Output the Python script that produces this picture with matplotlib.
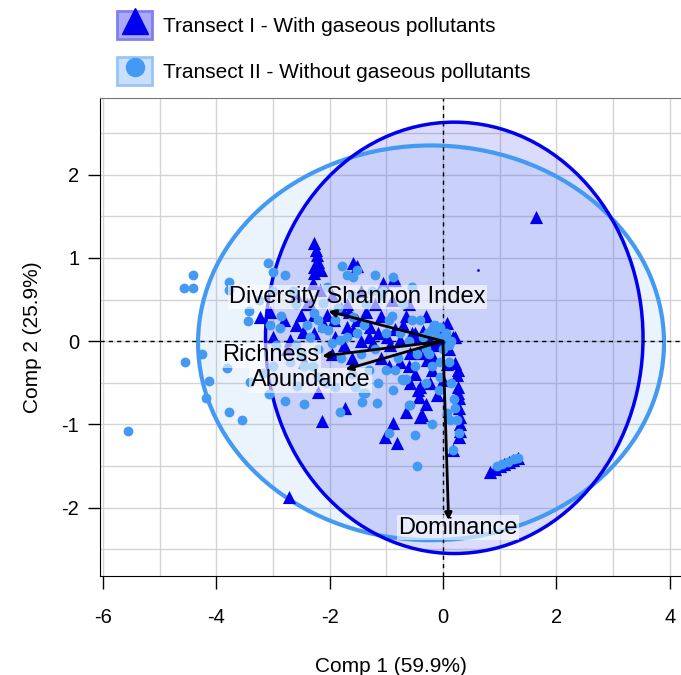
import matplotlib
matplotlib.use("Agg")
import matplotlib.pyplot as plt
from matplotlib.patches import Ellipse, Patch
from matplotlib.lines import Line2D
from matplotlib.legend_handler import HandlerTuple

plt.rcParams['font.family'] = ['Liberation Sans', 'DejaVu Sans']
plt.rcParams['axes.unicode_minus'] = False

# Transect I - With gaseous pollutants (triangles)
t1_x = [-2.28, -2.24, -2.22, -2.20, -2.28, -2.27, -2.15, -2.30, -2.16,
        -1.58, -1.52, -1.05, -0.88, -0.84,
        -3.22, -2.99, -2.69, -2.46, -2.28, -2.51, -2.28, -2.04, -1.93, -1.69,
        -1.58, -1.28, -1.51, -1.23, -0.98, -0.93, -0.76, -0.58, -0.40, -0.28,
        -0.18, 0.18, -0.11, 0.00, 0.07, 0.21, -0.14,
        -0.58, -0.40, -0.23, 0.00, 0.07, -0.44, -0.42,
        0.21, 0.25, 0.26, 0.28, 0.28, 0.30, 0.30, 0.30, 0.28, 0.18, 0.27, 0.26,
        -2.20, -2.13, -1.72, -2.71, -0.88, -1.02, -0.81, -0.37, -0.40,
        1.65, 0.83, 0.92, 1.00, 1.08, 1.16, 1.24, 1.32,
        -2.60, -2.40, -1.80, -1.35, -1.10, -0.65, -0.50, -1.95, -2.75, -0.30,
        -1.90, -1.75, -1.45, -1.30, -1.15, -0.85, -0.70, -0.55, -0.45, -0.35,
        -0.25, -0.15, -0.05, -0.60, -0.75, -0.95, -0.20, -0.10, -0.50, -1.10,
        -2.60, -2.80, -3.05, -2.35, -1.95, -1.70, -1.45, -1.20, -0.90, -0.60,
        -1.65, -2.10, -0.30, 0.05, 0.10, -1.60, -0.65, -0.30, -2.45]
t1_y = [1.18, 1.10, 1.03, 0.95, 0.89, 0.82, 0.85, 0.70, 0.61,
        0.94, 0.90, 0.70, 0.74, 0.73,
        0.29, 0.05, 0.01, 0.11, 0.10, 0.31, 0.31, 0.31, 0.25, 0.17,
        0.13, 0.17, 0.25, -0.02, 0.05, -0.05, 0.01, -0.14, -0.14, -0.23,
        -0.19, 0.05, 0.17, 0.17, 0.22, 0.05, 0.03,
        -0.50, -0.55, -0.50, -0.47, -0.27, -0.59, -0.67,
        -0.26, -0.41, -0.55, -0.68, -0.80, -0.91, -1.00, -1.08, -1.15, -1.31, -0.35, -0.62,
        -0.61, -0.96, -0.80, -1.87, -0.98, -1.15, -1.22, -0.89, -0.91,
        1.49, -1.57, -1.53, -1.50, -1.48, -1.45, -1.43, -1.40,
        0.55, 0.45, 0.40, 0.35, 0.30, 0.30, 0.10, -0.15, -0.10, -0.05,
        0.05, -0.05, 0.00, 0.05, 0.10, 0.15, 0.20, 0.10, 0.05, 0.12,
        0.05, -0.05, 0.00, -0.30, -0.25, -0.30, -0.35, -0.65, -0.40, -0.20,
        0.20, 0.25, 0.35, 0.45, 0.55, 0.45, 0.60, 0.45, 0.50, 0.45,
        0.35, 0.20, 0.30, 0.05, -0.10, -0.20, -0.85, -0.75, -0.25]

# Transect II - Without gaseous pollutants (circles)
t2_x = [-5.55, -4.41, -4.57, -4.41, -4.55, -4.25, -4.13, -4.18, -3.78, -3.78,
        -3.43, -3.44, -3.81, -3.41, -3.78, -3.55, -3.08, -2.99, -2.79, -2.86,
        -2.88, -2.99, -3.18, -3.06, -2.78, -2.58, -2.21, -2.07, -1.81, -1.42,
        -1.16, -1.37, -0.72, -0.58, -1.78, -1.70, -1.51, -1.58, -0.88, -2.28,
        -2.11, -2.02, -2.13, -1.95, -1.81, -1.58, -1.51, -0.26, -0.14, -0.05,
        -0.46, -0.95, -0.49, -0.60, -1.41, 0.07, 0.18, -0.07, -0.05, -0.88,
        -0.70, 0.95, 1.05, 1.15, 1.25, 1.33,
        -2.60, -2.40, -2.20, -1.90, -1.70, -1.40, -1.20, -1.00, -0.80, -0.60,
        -0.50, -0.30, -0.20, -0.10, 0.00, -1.30, -1.00, -0.90, -0.70, -1.10,
        -1.80, -2.50, -2.70, -1.60, -0.40, -0.20, 0.05, -0.30, 0.10, 0.15,
        0.20, 0.25, 0.28, 0.10, -3.05, -2.95, -2.45, -1.25, -0.55, 0.22,
        -2.35, -2.20, -1.85, -1.60, -1.35, -0.95, -0.75, -0.55, -0.45, -0.65,
        -0.85, -1.15, -1.45, -1.55, -2.30, -2.60, -0.35, -0.15, 0.00, -0.25,
        0.15, -0.05, -1.05, -2.05, -3.25, -3.00, -2.65, -1.20, -1.90, -2.45,
        0.12, -0.20]
t2_y = [-1.08, 0.80, 0.64, 0.64, -0.25, -0.16, -0.48, -0.68, 0.71, 0.62,
        0.36, 0.24, -0.32, -0.49, -0.85, -0.95, 0.94, 0.83, 0.80, 0.30,
        0.16, -0.30, -0.38, -0.64, -0.72, -0.54, -0.43, -0.50, -0.85, -0.73,
        -0.74, -0.62, -0.46, -0.77, 0.90, 0.79, 0.85, 0.77, 0.77, 0.34,
        0.46, 0.13, 0.16, -0.02, 0.01, 0.29, 0.10, 0.10, 0.13, 0.17,
        -1.50, -1.10, -1.13, -0.77, -0.62, -0.86, -1.31, -0.59, -0.43, -0.59,
        -0.47, -1.50, -1.47, -1.45, -1.42, -1.40,
        0.45, 0.20, -0.10, 0.25, 0.05, 0.20, -0.10, 0.10, -0.20, 0.00,
        -0.30, -0.10, -0.30, 0.05, -0.10, -0.35, -0.35, 0.30, 0.45, 0.55,
        -0.20, -0.15, -0.25, -0.40, 0.25, 0.15, 0.10, -0.50, -0.25, -0.50,
        -0.70, -0.95, -1.10, -0.05, 0.20, -0.05, -0.30, 0.60, 0.65, -0.80,
        0.05, 0.25, 0.40, 0.55, 0.45, 0.25, 0.10, 0.25, -0.15, -0.45,
        -0.35, -0.50, -0.15, -0.55, -0.30, -0.05, 0.05, 0.20, 0.05, -0.15,
        0.00, -0.25, 0.60, 0.65, 0.50, 0.60, 0.60, 0.80, -0.55, -0.75,
        -0.95, -1.00]

# small stray point
tiny_x = [0.62]
tiny_y = [0.85]

# loadings
var_names = ['Diversity Shannon Index', 'Richness', 'Abundance', 'Dominance']
load_x = [-2.02, -2.13, -1.72, 0.10]
load_y = [0.36, -0.18, -0.34, -2.15]
label_x = [-1.51, -3.04, -2.34, 0.26]
label_y = [0.53, -0.17, -0.47, -2.24]

# confidence ellipses (center x, center y, width, height)
ell1 = (0.20, 0.04, 6.66, 5.18)
ell2 = (-0.21, -0.02, 8.22, 4.74)

dark = '#0000ee'
light = '#4499f2'

fig = plt.figure(figsize=(6.81, 6.75), dpi=100)
ax = fig.add_axes([100 / 681, 1 - 576 / 675, 581 / 681, 478 / 675])

ax.set_xlim(-6.05, 4.2)
ax.set_ylim(-2.82, 2.92)
ax.set_xticks([-6, -4, -2, 0, 2, 4])
ax.set_yticks([-2, -1, 0, 1, 2])
ax.set_xticks(range(-6, 5), minor=True)
ax.set_yticks([v / 2 for v in range(-5, 6)], minor=True)
ax.grid(True, which='both', color='#d4d4d4', lw=1)
ax.set_axisbelow(True)
ax.tick_params(which='minor', length=0)
ax.tick_params(which='major', length=9, width=1, labelsize=14.5, direction='out', pad=14)
ax.tick_params(axis='y', pad=6)

ax.spines['right'].set_visible(False)
ax.spines['top'].set_color('#777777')

e2 = Ellipse((ell2[0], ell2[1]), ell2[2], ell2[3], facecolor=light, alpha=0.1,
             edgecolor='none', zorder=1)
e1 = Ellipse((ell1[0], ell1[1]), ell1[2], ell1[3], facecolor=dark, alpha=0.14,
             edgecolor='none', zorder=1)
ax.add_patch(e2)
ax.add_patch(e1)
ax.add_patch(Ellipse((ell2[0], ell2[1]), ell2[2], ell2[3], facecolor='none',
                     edgecolor=light, lw=3, zorder=2))
ax.add_patch(Ellipse((ell1[0], ell1[1]), ell1[2], ell1[3], facecolor='none',
                     edgecolor=dark, lw=2.5, zorder=2))

ax.axhline(0, color='k', lw=1, ls=(0, (3, 3)), zorder=2)
ax.axvline(0, color='k', lw=1, ls=(0, (3, 3)), zorder=2)

ax.scatter(t1_x, t1_y, marker='^', s=90, color=dark, linewidths=0, zorder=3)
ax.scatter(t2_x, t2_y, marker='o', s=50, color=light, linewidths=0, zorder=4)
ax.scatter(tiny_x, tiny_y, marker='o', s=4, color=dark, linewidths=0, zorder=4)

for name, lx, ly, tx, ty in zip(var_names, load_x, load_y, label_x, label_y):
    ax.annotate('', xy=(lx, ly), xytext=(0, 0),
                arrowprops=dict(arrowstyle='-|>', color='k', lw=2,
                                mutation_scale=10, shrinkA=0, shrinkB=0),
                zorder=6)
    ax.text(tx, ty, name, fontsize=17, ha='center', va='center', zorder=5,
            bbox=dict(facecolor='white', alpha=0.6, edgecolor='none', pad=1))

ax.set_xlabel('Comp 1 (59.9%)', fontsize=15, labelpad=22)
ax.set_ylabel('Comp 2 (25.9%)', fontsize=15, labelpad=14)

h1 = (Patch(facecolor='#aaaaf8', edgecolor='#8080f0', lw=2),
      Line2D([], [], marker='^', ls='none', color=dark, markersize=19))
h2 = (Patch(facecolor='#c8e0fe', edgecolor='#98c4f8', lw=2),
      Line2D([], [], marker='o', ls='none', color=light, markersize=13))
fig.legend([h1, h2], ['Transect I - With gaseous pollutants',
                      'Transect II - Without gaseous pollutants'],
           handler_map={tuple: HandlerTuple(ndivide=1)},
           loc='upper left', bbox_to_anchor=(117 / 681, 1 - 11 / 675),
           frameon=False, fontsize=15, handlelength=1.7, handleheight=1.7,
           handletextpad=0.5, labelspacing=0.85, borderpad=0, borderaxespad=0)

fig.savefig('out.png', dpi=100)
